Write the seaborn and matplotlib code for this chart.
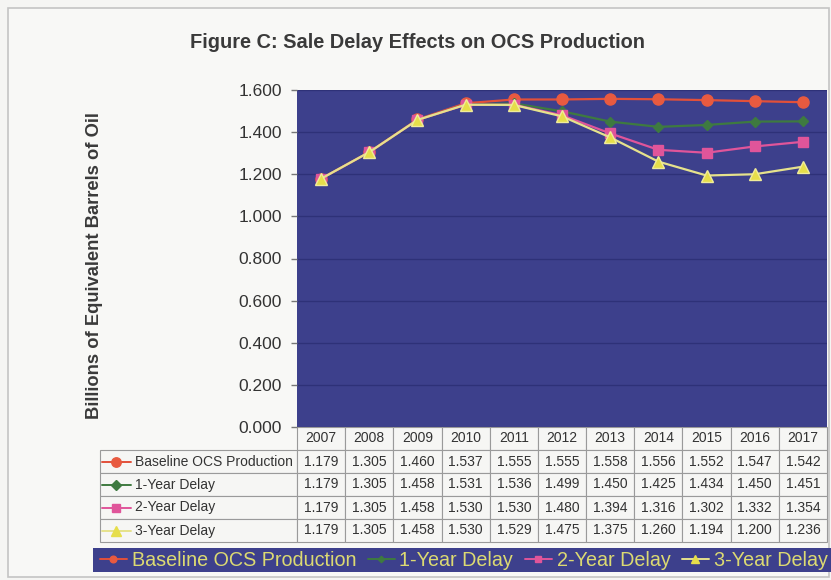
import matplotlib
matplotlib.use("Agg")
import matplotlib.pyplot as plt
from matplotlib.patches import Rectangle
from matplotlib.lines import Line2D
import seaborn as sns

# data
years = [2007, 2008, 2009, 2010, 2011, 2012, 2013, 2014, 2015, 2016, 2017]
baseline = [1.179, 1.305, 1.460, 1.537, 1.555, 1.555, 1.558, 1.556, 1.552, 1.547, 1.542]
delay_1yr = [1.179, 1.305, 1.458, 1.531, 1.536, 1.499, 1.450, 1.425, 1.434, 1.450, 1.451]
delay_2yr = [1.179, 1.305, 1.458, 1.530, 1.530, 1.480, 1.394, 1.316, 1.302, 1.332, 1.354]
delay_3yr = [1.179, 1.305, 1.458, 1.530, 1.529, 1.475, 1.375, 1.260, 1.194, 1.200, 1.236]
labels = ["Baseline OCS Production", "1-Year Delay", "2-Year Delay", "3-Year Delay"]
yticks = [0.0, 0.2, 0.4, 0.6, 0.8, 1.0, 1.2, 1.4, 1.6]

series = [baseline, delay_1yr, delay_2yr, delay_3yr]
styles = [
    dict(color="#E2503A", marker="o", markersize=8, mfc="#E85A40", mec="#E85A40", lw=1.6),
    dict(color="#3E7A40", marker="D", markersize=5.5, mfc="#3E7A40", mec="#3E7A40", lw=1.6),
    dict(color="#E0559A", marker="s", markersize=7.5, mfc="#E0559A", mec="#E0559A", lw=1.6),
    dict(color="#E6E28C", marker="^", markersize=8.5, mfc="#E6DE4A", mec="#F0EC9A", lw=1.6),
]

sns.set_style("white")
plt.rcParams['font.family'] = ['Liberation Sans', 'DejaVu Sans']

W, H = 831, 580
fig = plt.figure(figsize=(W / 100, H / 100), dpi=100, facecolor="#F5F5F3")

# outer frame
fig.patches.append(Rectangle((8 / W, 1 - 577 / H), 821 / W, 569 / H, transform=fig.transFigure,
                             facecolor="#F8F8F6", edgecolor="#C4C4C4", lw=1.2, zorder=-10))

pl, pr, pt, pb = 297, 827, 90, 427
ax = fig.add_axes([pl / W, 1 - pb / H, (pr - pl) / W, (pb - pt) / H])
ax.set_facecolor("#3D408C")

for vals, st in zip(series, styles):
    sns.lineplot(x=years, y=vals, ax=ax, color=st["color"], marker=st["marker"],
                 markersize=st["markersize"], markerfacecolor=st["mfc"],
                 markeredgecolor=st["mec"], markeredgewidth=1, linewidth=st["lw"],
                 legend=False)

ax.set_xlim(years[0] - 0.5, years[-1] + 0.5)
ax.set_ylim(0, 1.6)
ax.set_yticks(yticks)
ax.set_yticklabels([f"{v:.3f}" for v in yticks], fontsize=12.5, color="#333333")
ax.set_xticks([])
ax.grid(axis="y", color="#2E3178", lw=1)
ax.set_axisbelow(True)
for s in ax.spines.values():
    s.set_visible(False)
ax.tick_params(axis="y", left=True, length=4, width=1, color="#777777", pad=7)
ax.set_xlabel("")
ax.set_ylabel("")

# data table under the plot
ah = pb - pt
aw = pr - pl
label_w = (pl - 100) / aw
tab_h = (542 - pb) / ah
cell_text = [[lab] + [f"{v:.3f}" for v in vals] for lab, vals in zip(labels, series)]
col_labels = [""] + [str(y) for y in years]
tab = ax.table(cellText=cell_text, colLabels=col_labels, cellLoc="center",
               colWidths=[label_w] + [1 / len(years)] * len(years),
               bbox=[-label_w, -tab_h, 1 + label_w, tab_h])
tab.auto_set_font_size(False)
tab.set_fontsize(10)
for (r, c), cell in tab.get_celld().items():
    cell.set_edgecolor("#9A9A9A")
    cell.set_linewidth(0.8)
    cell.set_facecolor("#F6F6F4")
    cell.get_text().set_color("#333333")
    if r == 0 and c == 0:
        cell.visible_edges = ""
        cell.set_facecolor("none")
    if r >= 1 and c == 0:
        cell._loc = "left"
        cell.PAD = 35 / (pl - 100)
        cell.get_text().set_ha("left")

# small keys in the row-label column
row_h = tab_h / (len(labels) + 1)
for i, st in enumerate(styles):
    yc = -row_h * (i + 1.5)
    x0 = (102 - pl) / aw
    x1 = (131 - pl) / aw
    ax.add_line(Line2D([x0, (x0 + x1) / 2, x1], [yc] * 3, transform=ax.transAxes, clip_on=False,
                       color=st["color"], lw=1.4, marker=st["marker"], markevery=[1],
                       markersize=st["markersize"] * 0.85, markerfacecolor=st["mfc"],
                       markeredgecolor=st["mfc"]))

# legend bar
fig.patches.append(Rectangle((93 / W, 1 - 572 / H), (831 - 93) / W, 24 / H, transform=fig.transFigure,
                             facecolor="#3D408C", edgecolor="none", zorder=1))
handles = [Line2D([0], [0], color=st["color"], lw=1.4, marker=st["marker"],
                  markersize=st["markersize"] * 0.6, markerfacecolor=st["mfc"],
                  markeredgecolor=st["mfc"]) for st in styles]
leg = fig.legend(handles, labels, loc="center left", bbox_to_anchor=(100 / W, 1 - 560 / H),
                 ncol=4, frameon=False, fontsize=14.2, handlelength=1.35, handletextpad=0.25,
                 columnspacing=0.6, borderpad=0, borderaxespad=0)
for t in leg.get_texts():
    t.set_color("#DCDA72")

fig.text(418 / W, 1 - 43 / H, "Figure C: Sale Delay Effects on OCS Production",
         ha="center", va="center", fontsize=14.4, fontweight="bold", color="#3A3A3A")
fig.text(95 / W, 1 - 266 / H, "Billions of Equivalent Barrels of Oil", rotation=90,
         ha="center", va="center", fontsize=13.2, fontweight="bold", color="#3A3A3A")

fig.savefig("out.png", dpi=100, facecolor=fig.get_facecolor())
